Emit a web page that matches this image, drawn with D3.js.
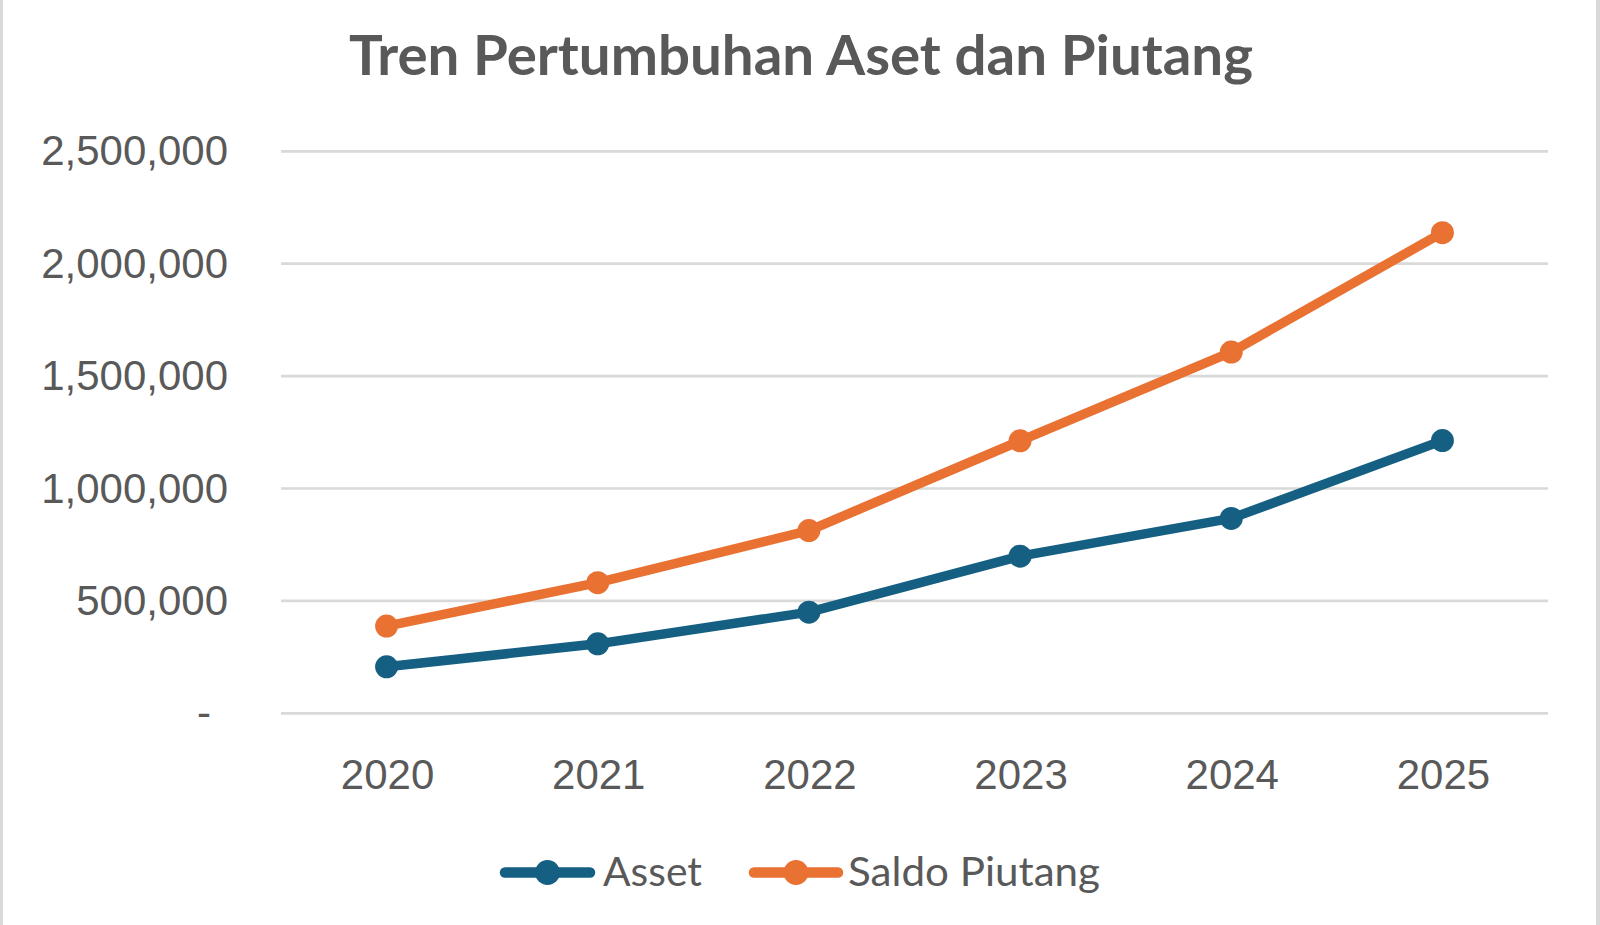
<!DOCTYPE html>
<html><head><meta charset="utf-8">
<script src="https://cdn.jsdelivr.net/npm/d3@7"></script>
<style>html,body{margin:0;padding:0;background:#fff;overflow:hidden}</style>
</head><body>
<svg id="chart" width="1600" height="925"></svg>
<script>
const title = "Tren Pertumbuhan Aset dan Piutang";
const categories = ["2020","2021","2022","2023","2024","2025"];
const assetValues = [207000, 309000, 450000, 699000, 867000, 1213000];
const saldoValues = [388000, 581000, 813000, 1212000, 1607000, 2138000];
const seriesNames = ["Asset", "Saldo Piutang"];
const yTicks = [0, 500000, 1000000, 1500000, 2000000, 2500000];

const colors = ["#156082", "#E97132"];
const textColor = "#595959";
const svg = d3.select("#chart");
const W = 1600, H = 925;
svg.append("rect").attr("width", W).attr("height", H).attr("fill", "#fff");
// borders
svg.append("rect").attr("x",0).attr("y",0).attr("width",3).attr("height",H).attr("fill","#d9d9d9");
svg.append("rect").attr("x",1596).attr("y",0).attr("width",4).attr("height",H).attr("fill","#d9d9d9");

const x = d3.scaleBand().domain(categories).range([281, 1548]);
const y = d3.scaleLinear().domain([0, 2500000]).range([713.3, 151.3]);

// gridlines
svg.append("g").selectAll("line").data(yTicks).join("line")
  .attr("x1", 281).attr("x2", 1548)
  .attr("y1", d => y(d)).attr("y2", d => y(d))
  .attr("stroke", "#d9d9d9").attr("stroke-width", 2.7);

const fmt = d3.format(",");
// y labels
svg.append("g").selectAll("text").data(yTicks).join("text")
  .attr("x", d => d === 0 ? 211 : 228)
  .attr("y", d => y(d) + 14)
  .attr("text-anchor", "end")
  .attr("font-family", "Liberation Sans, Arial, sans-serif")
  .attr("font-size", 42)
  .attr("fill", textColor)
  .text(d => d === 0 ? "-" : fmt(d));

// x labels
svg.append("g").selectAll("text").data(categories).join("text")
  .attr("x", d => x(d) + x.bandwidth()/2 + 1)
  .attr("y", 789)
  .attr("text-anchor", "middle")
  .attr("font-family", "Liberation Sans, Arial, sans-serif")
  .attr("font-size", 42)
  .attr("fill", textColor)
  .text(d => d);

// title
svg.append("text")
  .attr("x", 349).attr("y", 75)
  .attr("font-family", "Lato, Open Sans, sans-serif")
  .attr("font-weight", "bold")
  .attr("font-size", 55)
  .attr("fill", textColor)
  .attr("textLength", 904).attr("lengthAdjust", "spacingAndGlyphs")
  .text(title);

const series = [assetValues, saldoValues];
const line = d3.line().x((d, i) => x(categories[i]) + x.bandwidth()/2).y(d => y(d));
series.forEach((vals, si) => {
  const g = svg.append("g");
  g.append("path").datum(vals).attr("d", line)
    .attr("fill", "none").attr("stroke", colors[si]).attr("stroke-width", 9.5)
    .attr("stroke-linejoin", "round").attr("stroke-linecap", "round");
  g.selectAll("circle").data(vals).join("circle")
    .attr("cx", (d, i) => x(categories[i]) + x.bandwidth()/2)
    .attr("cy", d => y(d))
    .attr("r", 11.5).attr("fill", colors[si]);
});

// legend
const legendItems = [
  {name: seriesNames[0], x1: 505, x2: 590, tx: 603, tw: 99},
  {name: seriesNames[1], x1: 754, x2: 838, tx: 848, tw: 252}
];
legendItems.forEach((it, i) => {
  const g = svg.append("g");
  g.append("line").attr("x1", it.x1).attr("x2", it.x2).attr("y1", 872.5).attr("y2", 872.5)
    .attr("stroke", colors[i]).attr("stroke-width", 10.5).attr("stroke-linecap", "round");
  g.append("circle").attr("cx", (it.x1 + it.x2)/2).attr("cy", 872.5).attr("r", 12.5).attr("fill", colors[i]);
  g.append("text").attr("x", it.tx).attr("y", 886)
    .attr("font-family", "Lato, Open Sans, sans-serif")
    .attr("font-size", 40).attr("fill", textColor)
    .attr("textLength", it.tw).attr("lengthAdjust", "spacingAndGlyphs")
    .text(it.name);
});
</script>
</body></html>
